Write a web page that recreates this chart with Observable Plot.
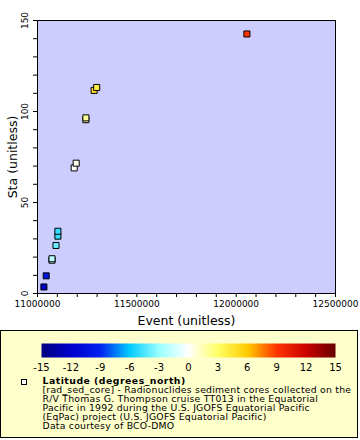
<!DOCTYPE html>
<html><head><meta charset="utf-8">
<script src="https://cdn.jsdelivr.net/npm/d3@7"></script>
<script src="https://cdn.jsdelivr.net/npm/@observablehq/plot@0.6"></script>
<style>
body{margin:0;background:#fff;font-family:"DejaVu Sans",sans-serif;}
#wrap{position:relative;width:360px;height:440px;overflow:hidden;}
#chart{position:absolute;left:0;top:0;}
#legend{position:absolute;left:0;top:330px;width:356px;height:106px;border:1px solid #000;background:#FFFFCC;}
#bar{position:absolute;left:0;top:0;}
#marker{position:absolute;left:19.5px;top:48px;width:4px;height:4px;border:1px solid #000;background:#fff;}
#ltext{position:absolute;left:41.5px;top:45px;font-size:9.3px;line-height:9px;letter-spacing:0.23px;color:#000;white-space:nowrap;}
#ltext b{letter-spacing:0.5px;}
</style></head>
<body>
<div id="wrap">
  <div id="chart"></div>
  <div id="legend">
    <div id="bar"></div>
    <div id="marker"></div>
    <div id="ltext"><b>Latitude (degrees_north)</b><br>[rad_sed_core] - Radionuclides sediment cores collected on the<br>R/V Thomas G. Thompson cruise TT013 in the Equatorial<br>Pacific in 1992 during the U.S. JGOFS Equatorial Pacific<br>(EqPac) project (U.S. JGOFS Equatorial Pacific)<br>Data courtesy of BCO-DMO</div>
  </div>
</div>
<script>
// Data
const events   = [11032200, 11043800, 11073000, 11073000, 11093100, 11102700, 11102700, 11184700, 11194800, 11243600, 11243600, 11285000, 11297900, 12054000];
const stations = [3.6, 9.7, 18.3, 19.1, 26.4, 31.5, 34.2, 69.0, 71.6, 95.5, 96.5, 111.6, 113.2, 142.6];
const latitudes = [-12, -10, -2, -2, -4, -5, -5, 0, 0.3, 2, 2, 5, 4, 9];

// Axis ticks
const xMajorTicks = [11000000, 11500000, 12000000, 12500000];
const xMinorTicks = [11100000, 11200000, 11300000, 11400000, 11600000, 11700000, 11800000, 11900000, 12100000, 12200000, 12300000, 12400000];
const yMajorTicks = [0, 50, 100, 150];
const yMinorTicks = [10, 20, 30, 40, 60, 70, 80, 90, 110, 120, 130, 140];
const colorTicks = [-15, -12, -9, -6, -3, 0, 3, 6, 9, 12, 15];

// Colour palette stops
const colorStops = [-15, -12, -9, -6, -3, 0, 3, 6, 9, 12, 15];
const colorRange = ["#000080", "#0000CC", "#0022F0", "#00CCFF", "#99FFFF", "#FFFFFF", "#FFFF66", "#FFCC00", "#FF3300", "#CC0000", "#660000"];

const data = events.map((e, i) => ({event: e, sta: stations[i], lat: latitudes[i]}));
const font = '"DejaVu Sans", sans-serif';
const colorScale = {type: "linear", domain: colorStops, range: colorRange, clamp: true};

const chart = Plot.plot({
  width: 360, height: 330,
  marginLeft: 37, marginRight: 25, marginTop: 20, marginBottom: 37,
  style: {fontFamily: font, fontSize: "9px", background: "#fff", color: "#000", overflow: "visible"},
  x: {domain: [11000000, 12500000]},
  y: {domain: [0, 150]},
  color: colorScale,
  marks: [
    Plot.frame({fill: "#CCCCFF"}),
    Plot.axisX({ticks: xMinorTicks, tickSize: 4, text: null, label: null}),
    Plot.axisX({ticks: xMajorTicks, tickSize: 4, tickPadding: 3, tickFormat: d => String(d), label: null}),
    Plot.axisY({ticks: yMinorTicks, tickSize: 4, text: null, label: null}),
    Plot.axisY({ticks: yMajorTicks, tickSize: 4, text: null, label: null}),
    Plot.text(yMajorTicks, {y: d => d, text: d => String(d), frameAnchor: "left", dx: -12, rotate: -90, textAnchor: "middle", lineAnchor: "middle", fontSize: 9, fill: "#000"}),
    Plot.text(["Event (unitless)"], {frameAnchor: "bottom", dy: 27, fontSize: 12.5, textAnchor: "middle", lineAnchor: "middle", fill: "#000"}),
    Plot.text(["Sta (unitless)"], {frameAnchor: "left", dx: -25, rotate: -90, fontSize: 12.5, textAnchor: "middle", lineAnchor: "middle", fill: "#000"}),
    Plot.dot(data, {x: "event", y: "sta", fill: "lat", symbol: "square", r: 3.4, stroke: "#000", strokeWidth: 1}),
    Plot.frame({stroke: "#000"})
  ]
});
document.getElementById("chart").append(chart);

const bar = Plot.plot({
  width: 356, height: 44,
  marginLeft: 40, marginRight: 22, marginTop: 12, marginBottom: 18,
  style: {fontFamily: font, fontSize: "10px", background: "transparent", color: "#000", overflow: "visible"},
  x: {domain: [-15, 15]},
  y: {domain: [0, 1], axis: null},
  color: colorScale,
  marks: [
    Plot.raster({x1: -15, x2: 15, y1: 0, y2: 1, width: 294, height: 1, fill: (x, y) => x, imageRendering: "auto"}),
    Plot.axisX({ticks: colorTicks, tickSize: 0, tickPadding: 6, tickFormat: d => String(d), label: null})
  ]
});
document.getElementById("bar").append(bar);
</script>
</body></html>
